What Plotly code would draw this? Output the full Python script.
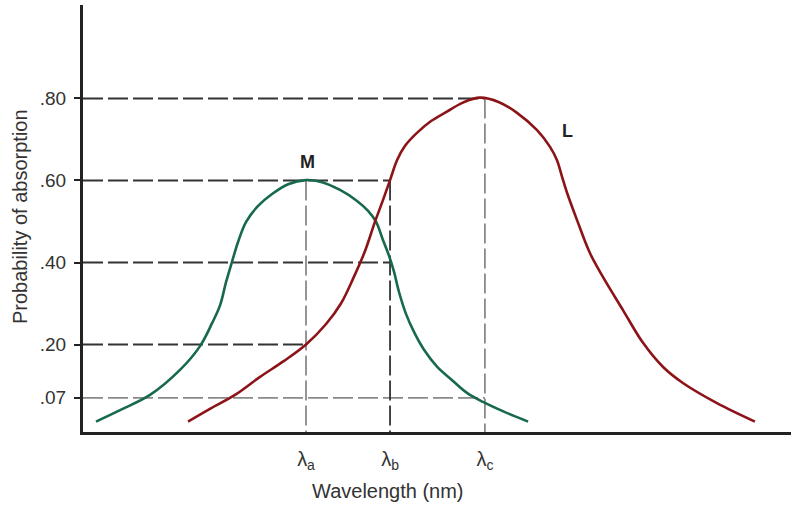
import plotly.graph_objects as go

# ---- data (wavelength in arbitrary nm-like units, probability of absorption) ----
m_wavelength = [405.5, 415.7, 428.4, 441.1, 449.6, 454.7, 458.1, 460.6, 463.1, 465.7,
                469.1, 474.2, 480.1, 486.9, 494.5, 501.3, 508.9, 515.7, 520.8, 524.2,
                527.1, 529.7, 531.8, 533.9, 536.9, 540.3, 544.5, 550.0, 556.4, 562.7,
                569.5, 578.8, 588.6]
m_prob = [0.012, 0.040, 0.077, 0.138, 0.196, 0.252, 0.296, 0.352, 0.401, 0.450,
          0.499, 0.538, 0.567, 0.591, 0.601, 0.596, 0.577, 0.552, 0.526, 0.499,
          0.455, 0.416, 0.377, 0.328, 0.274, 0.230, 0.187, 0.146, 0.113, 0.082,
          0.060, 0.035, 0.012]

l_wavelength = [444.5, 453.8, 464.4, 475.0, 485.2, 494.5, 503.0, 509.3, 514.4, 519.5,
                523.7, 527.1, 530.1, 533.1, 536.4, 541.5, 547.5, 554.2, 561.0, 568.2,
                576.3, 583.9, 592.4, 597.9, 600.8, 603.0, 605.1, 609.3, 614.8, 620.3,
                628.8, 637.3, 645.8, 654.2, 668.6, 684.7]
l_prob = [0.012, 0.043, 0.077, 0.121, 0.160, 0.200, 0.250, 0.300, 0.360, 0.428,
          0.499, 0.552, 0.601, 0.650, 0.684, 0.716, 0.745, 0.768, 0.790, 0.802,
          0.791, 0.765, 0.723, 0.682, 0.650, 0.609, 0.570, 0.504, 0.423, 0.365,
          0.284, 0.204, 0.145, 0.106, 0.057, 0.012]

lambda_vals = [494.5, 530.1, 570.3]
lambda_text = ["λ<sub>a</sub>", "λ<sub>b</sub>", "λ<sub>c</sub>"]

y_ticks = [0.07, 0.20, 0.40, 0.60, 0.80]
y_ticktext = [".07", ".20", ".40", ".60", ".80"]

# guide lines: (probability, wavelength where it ends, colour)
h_guides = [(0.80, lambda_vals[2], "#333333"),
            (0.60, lambda_vals[1], "#333333"),
            (0.40, lambda_vals[1], "#333333"),
            (0.20, lambda_vals[0], "#333333"),
            (0.07, lambda_vals[2], "#8a8a8a")]
v_guides = [(lambda_vals[0], 0.60, "#8a8a8a"),
            (lambda_vals[1], 0.60, "#333333"),
            (lambda_vals[2], 0.80, "#8a8a8a")]

X_MIN, X_MAX = 400, 700
Y_MIN, Y_MAX = -0.0134, 1.028

GREEN = "#17694b"
RED = "#8c1418"
FONT = "Liberation Sans, Arial, sans-serif"

fig = go.Figure()

shapes = []
for yv, xend, col in h_guides:
    shapes.append(dict(type="line", xref="x", yref="y", x0=X_MIN, x1=xend, y0=yv, y1=yv,
                       line=dict(color=col, width=1.8, dash="20px,5px"), layer="below"))
for xv, ytop, col in v_guides:
    shapes.append(dict(type="line", xref="x", yref="y", x0=xv, x1=xv, y0=ytop, y1=Y_MIN,
                       line=dict(color=col, width=1.8, dash="20px,5px"), layer="below"))

fig.add_trace(go.Scatter(x=m_wavelength, y=m_prob, mode="lines",
                         line=dict(color=GREEN, width=2.6, shape="spline", smoothing=1.0),
                         showlegend=False, hoverinfo="skip"))
fig.add_trace(go.Scatter(x=l_wavelength, y=l_prob, mode="lines",
                         line=dict(color=RED, width=2.6, shape="spline", smoothing=1.0),
                         showlegend=False, hoverinfo="skip"))

annotations = [
    dict(x=lambda_vals[0], y=0.60, xref="x", yref="y", text="<b>M</b>", showarrow=False,
         yshift=18, xshift=1, font=dict(family=FONT, size=18, color="#222222")),
    dict(x=605.5, y=0.721, xref="x", yref="y", text="<b>L</b>", showarrow=False,
         font=dict(family=FONT, size=18, color="#222222")),
    dict(x=(388 - 83) / 708, y=-(491 - 432) / 427, xref="paper", yref="paper",
         xanchor="center", yanchor="middle", text="Wavelength (nm)",
         showarrow=False, font=dict(family=FONT, size=20, color="#333333")),
    dict(x=-63 / 708, y=(432 - 217) / 427, xref="paper", yref="paper",
         xanchor="center", yanchor="middle",
         text="Probability of absorption", textangle=-90, showarrow=False,
         font=dict(family=FONT, size=20, color="#333333")),
]

fig.update_layout(
    width=791, height=506,
    margin=dict(l=83, r=0, t=5, b=74),
    paper_bgcolor="white", plot_bgcolor="white",
    shapes=shapes, annotations=annotations,
    xaxis=dict(range=[X_MIN, X_MAX], showgrid=False, zeroline=False,
               showline=True, linecolor="#222222", linewidth=3,
               tickvals=lambda_vals, ticktext=lambda_text, ticks="",
               ticklabelstandoff=7,
               tickfont=dict(family=FONT, size=20, color="#333333")),
    yaxis=dict(range=[Y_MIN, Y_MAX], showgrid=False, zeroline=False,
               showline=True, linecolor="#222222", linewidth=3,
               tickvals=y_ticks, ticktext=y_ticktext, ticks="outside",
               ticklen=6, tickwidth=2, tickcolor="#222222",
               ticklabelstandoff=4,
               tickfont=dict(family=FONT, size=19, color="#333333")),
)

fig.write_html("out.html")
